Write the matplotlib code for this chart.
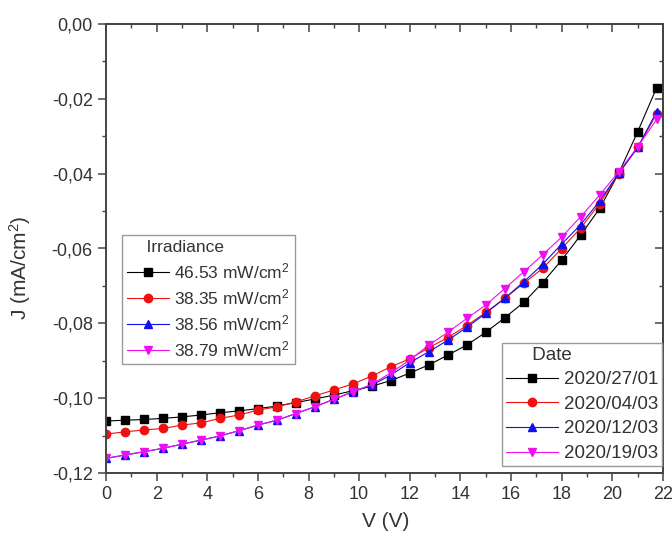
import numpy as np
import matplotlib
matplotlib.use("Agg")
import matplotlib.pyplot as plt
from matplotlib.ticker import MultipleLocator, FuncFormatter

plt.rcParams['font.family'] = ['Liberation Sans', 'DejaVu Sans']
plt.rcParams['mathtext.default'] = 'regular'

# --- data ---
volts = np.arange(30) * 0.75

j_black = np.array([-0.1061, -0.1059, -0.1057, -0.1054, -0.1050, -0.1045, -0.1039, -0.1034,
                    -0.1028, -0.1021, -0.1012, -0.1002, -0.0992, -0.0980, -0.0968, -0.0953,
                    -0.0933, -0.0911, -0.0885, -0.0858, -0.0824, -0.0785, -0.0744, -0.0691,
                    -0.0631, -0.0564, -0.0493, -0.0399, -0.0288, -0.0170])
j_red = np.array([-0.1096, -0.1090, -0.1085, -0.1081, -0.1072, -0.1066, -0.1054, -0.1045,
                  -0.1032, -0.1023, -0.1010, -0.0994, -0.0978, -0.0962, -0.0941, -0.0916,
                  -0.0895, -0.0865, -0.0838, -0.0806, -0.0771, -0.0733, -0.0693, -0.0653,
                  -0.0600, -0.0545, -0.0480, -0.0400, -0.0330, -0.0240])
j_blue = np.array([-0.1161, -0.1152, -0.1143, -0.1134, -0.1123, -0.1112, -0.1101, -0.1087,
                   -0.1072, -0.1059, -0.1041, -0.1023, -0.1003, -0.0983, -0.0965, -0.0938,
                   -0.0905, -0.0876, -0.0845, -0.0811, -0.0773, -0.0733, -0.0689, -0.0642,
                   -0.0588, -0.0536, -0.0473, -0.0399, -0.0330, -0.0234])
j_magenta = np.array([-0.1161, -0.1152, -0.1143, -0.1134, -0.1123, -0.1112, -0.1101, -0.1087,
                      -0.1072, -0.1059, -0.1041, -0.1023, -0.1003, -0.0983, -0.0963, -0.0932,
                      -0.0898, -0.0858, -0.0824, -0.0787, -0.0751, -0.0707, -0.0662, -0.0617,
                      -0.0569, -0.0515, -0.0457, -0.0395, -0.0328, -0.0255])

irradiance = ["46.53 mW/cm$^2$", "38.35 mW/cm$^2$", "38.56 mW/cm$^2$", "38.79 mW/cm$^2$"]
dates = ["2020/27/01", "2020/04/03", "2020/12/03", "2020/19/03"]

series = [j_black, j_red, j_blue, j_magenta]
colors = ["black", "#ee1111", "#1010ee", "#ee10ee"]
markers = ["s", "o", "^", "v"]

fig = plt.figure(figsize=(6.72, 5.44), dpi=100)
ax = fig.add_axes([106/672, 1 - 473/544, 557/672, 449/544])

handles = []
for j, c, m in zip(series, colors, markers):
    h, = ax.plot(volts, j, marker=m, color=c, ms=6, lw=0.8, mec=c)
    handles.append(h)

ax.set_xlim(0, 22)
ax.set_ylim(-0.12, 0.0)
ax.xaxis.set_major_locator(MultipleLocator(2))
ax.xaxis.set_minor_locator(MultipleLocator(1))
ax.yaxis.set_major_locator(MultipleLocator(0.02))
ax.yaxis.set_minor_locator(MultipleLocator(0.01))
ax.yaxis.set_major_formatter(FuncFormatter(lambda v, p: f"{v:.2f}".replace(".", ",").replace("-0,00", "0,00")))

txt = "#333333"
axc = "#444444"
ax.tick_params(which='both', direction='out', colors=axc, labelcolor=txt, labelsize=13, pad=4)
ax.tick_params(which='major', length=5.5, width=1.1)
ax.tick_params(which='minor', length=3, width=1.0)
for s in ax.spines.values():
    s.set_color(axc)
    s.set_linewidth(1.4)

# mirrored inward ticks on top/right
top = ax.secondary_xaxis("top")
top.xaxis.set_major_locator(MultipleLocator(2))
top.xaxis.set_minor_locator(MultipleLocator(1))
right = ax.secondary_yaxis("right")
right.yaxis.set_major_locator(MultipleLocator(0.02))
right.yaxis.set_minor_locator(MultipleLocator(0.01))
for sec in (top, right):
    sec.tick_params(which='both', direction='in', labeltop=False, labelright=False, colors=axc)
    sec.tick_params(which='major', length=5.5, width=1.1)
    sec.tick_params(which='minor', length=3, width=1.0)
    for s in sec.spines.values():
        s.set_color(axc)
        s.set_linewidth(1.4)

ax.set_xlabel("V (V)", fontsize=15, color=txt, va='center')
ax.xaxis.set_label_coords(0.503, -0.107)
ax.set_ylabel("J (mA/cm$^2$)", fontsize=15, color=txt, va='center')
ax.yaxis.set_label_coords(-0.154, 0.457)

leg1 = ax.legend(handles, irradiance, title="    Irradiance", loc="upper left",
                 bbox_to_anchor=(0.029, 0.530), borderaxespad=0, fontsize=12.5,
                 title_fontsize=12.5, fancybox=False, edgecolor='#999999',
                 framealpha=1, labelspacing=0.35, handlelength=2.4, handletextpad=0.3,
                 borderpad=0.3, alignment='left')
for t in leg1.get_texts():
    t.set_color(txt)
leg1.get_title().set_color(txt)
ax.add_artist(leg1)

leg2 = ax.legend(handles, dates, title="     Date", loc="lower right",
                 bbox_to_anchor=(0.998, 0.016), borderaxespad=0, fontsize=13.5,
                 title_fontsize=13.5, fancybox=False, edgecolor='#999999',
                 framealpha=1, labelspacing=0.4, handlelength=2.8, handletextpad=0.3,
                 borderpad=0.2, alignment='left')
for t in leg2.get_texts():
    t.set_color(txt)
leg2.get_title().set_color(txt)

fig.savefig("out.png", dpi=100)
